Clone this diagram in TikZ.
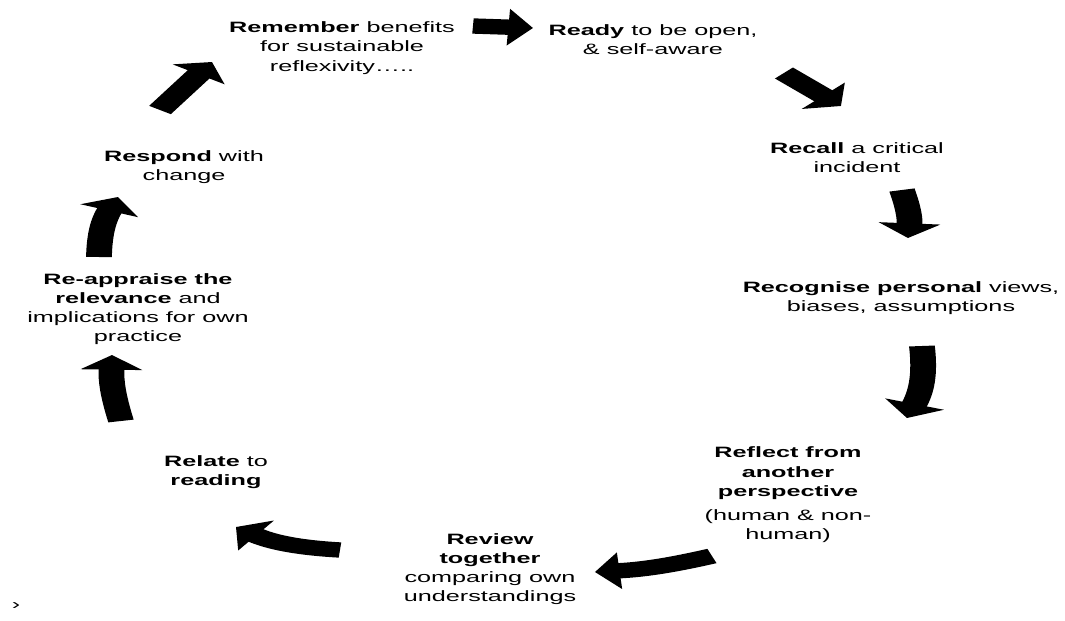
\documentclass[tikz,border=0pt]{standalone}
\usepackage{fontspec}
\setmainfont{Liberation Sans}[FakeStretch=1.68]
\usetikzlibrary{arrows.meta}

\begin{document}
\begin{tikzpicture}[x=0.75pt, y=-0.75pt,
  font=\fontsize{11.25pt}{14.4pt}\selectfont,
  stage/.style={align=center, inner sep=1pt, text=black},
  flow/.style={line width=11.5pt, draw=black, -{Triangle[length=11pt, width=27pt]}}]
\useasboundingbox[fill=white] (0,0) rectangle (1065,621);
% stages, clockwise from the top
\node[stage] (remember) at (342,48) {\textbf{Remember} benefits\\for sustainable\\reflexivity…..};
\node[stage] (ready) at (653,40) {\textbf{Ready} to be open,\\\& self-aware};
\node[stage] (recall) at (857,158) {\textbf{Recall} a critical\\incident};
\node[stage] (recognise) at (901,298) {\textbf{Recognise personal} views,\\biases, assumptions};
\node[stage] (reflect) at (788,495) {\textbf{Reflect from}\\\textbf{another}\\\textbf{perspective}\\[4pt](human \& non-\\human)};
\node[stage] (review) at (490,569) {\textbf{Review}\\\textbf{together}\\comparing own\\understandings};
\node[stage] (relate) at (216,472) {\textbf{Relate} to\\\textbf{reading}};
\node[stage] (reappraise) at (138,309) {\textbf{Re-appraise the}\\\textbf{relevance} and\\implications for own\\practice};
\node[stage] (respond) at (184,167) {\textbf{Respond} with\\change};
\node (mark) at (16,606) {›};
% block arrows, drawn unstretched and widened with the canvas
\begin{scope}[x=0.4464pt, transform canvas={xscale=1.68}]
\coordinate (respondT) at (160,110);   \coordinate (rememberH) at (212,62);
\coordinate (rememberT) at (473,26);   \coordinate (readyH) at (533,28);
\coordinate (readyT) at (784,73);      \coordinate (recallH) at (841,106);
\coordinate (recallT) at (902,190);    \coordinate (recogniseH) at (908,238);
\coordinate (recogniseT) at (922,346); \coordinate (reflectH) at (907,418);
\coordinate (reflectT) at (712,556);   \coordinate (reviewH) at (595,572);
\coordinate (reviewT) at (340,550);    \coordinate (relateH) at (236,527);
\coordinate (relateT) at (121,421);    \coordinate (reappraiseH) at (112,355);
\coordinate (reappraiseT) at (99,257); \coordinate (respondH) at (118,197);
\draw[flow] (respondT) to (rememberH);
\draw[flow] (rememberT) to (readyH);
\draw[flow] (readyT) to (recallH);
\draw[flow] (recallT) to[bend left=8] (recogniseH);
\draw[flow] (recogniseT) to[bend left=11] (reflectH);
\draw[flow] (reflectT) to[bend left=8] (reviewH);
\draw[flow] (reviewT) to[bend left=15] (relateH);
\draw[flow] (relateT) to[bend left=6] (reappraiseH);
\draw[flow] (reappraiseT) to[bend left=10] (respondH);
\end{scope}
\end{tikzpicture}
\end{document}
